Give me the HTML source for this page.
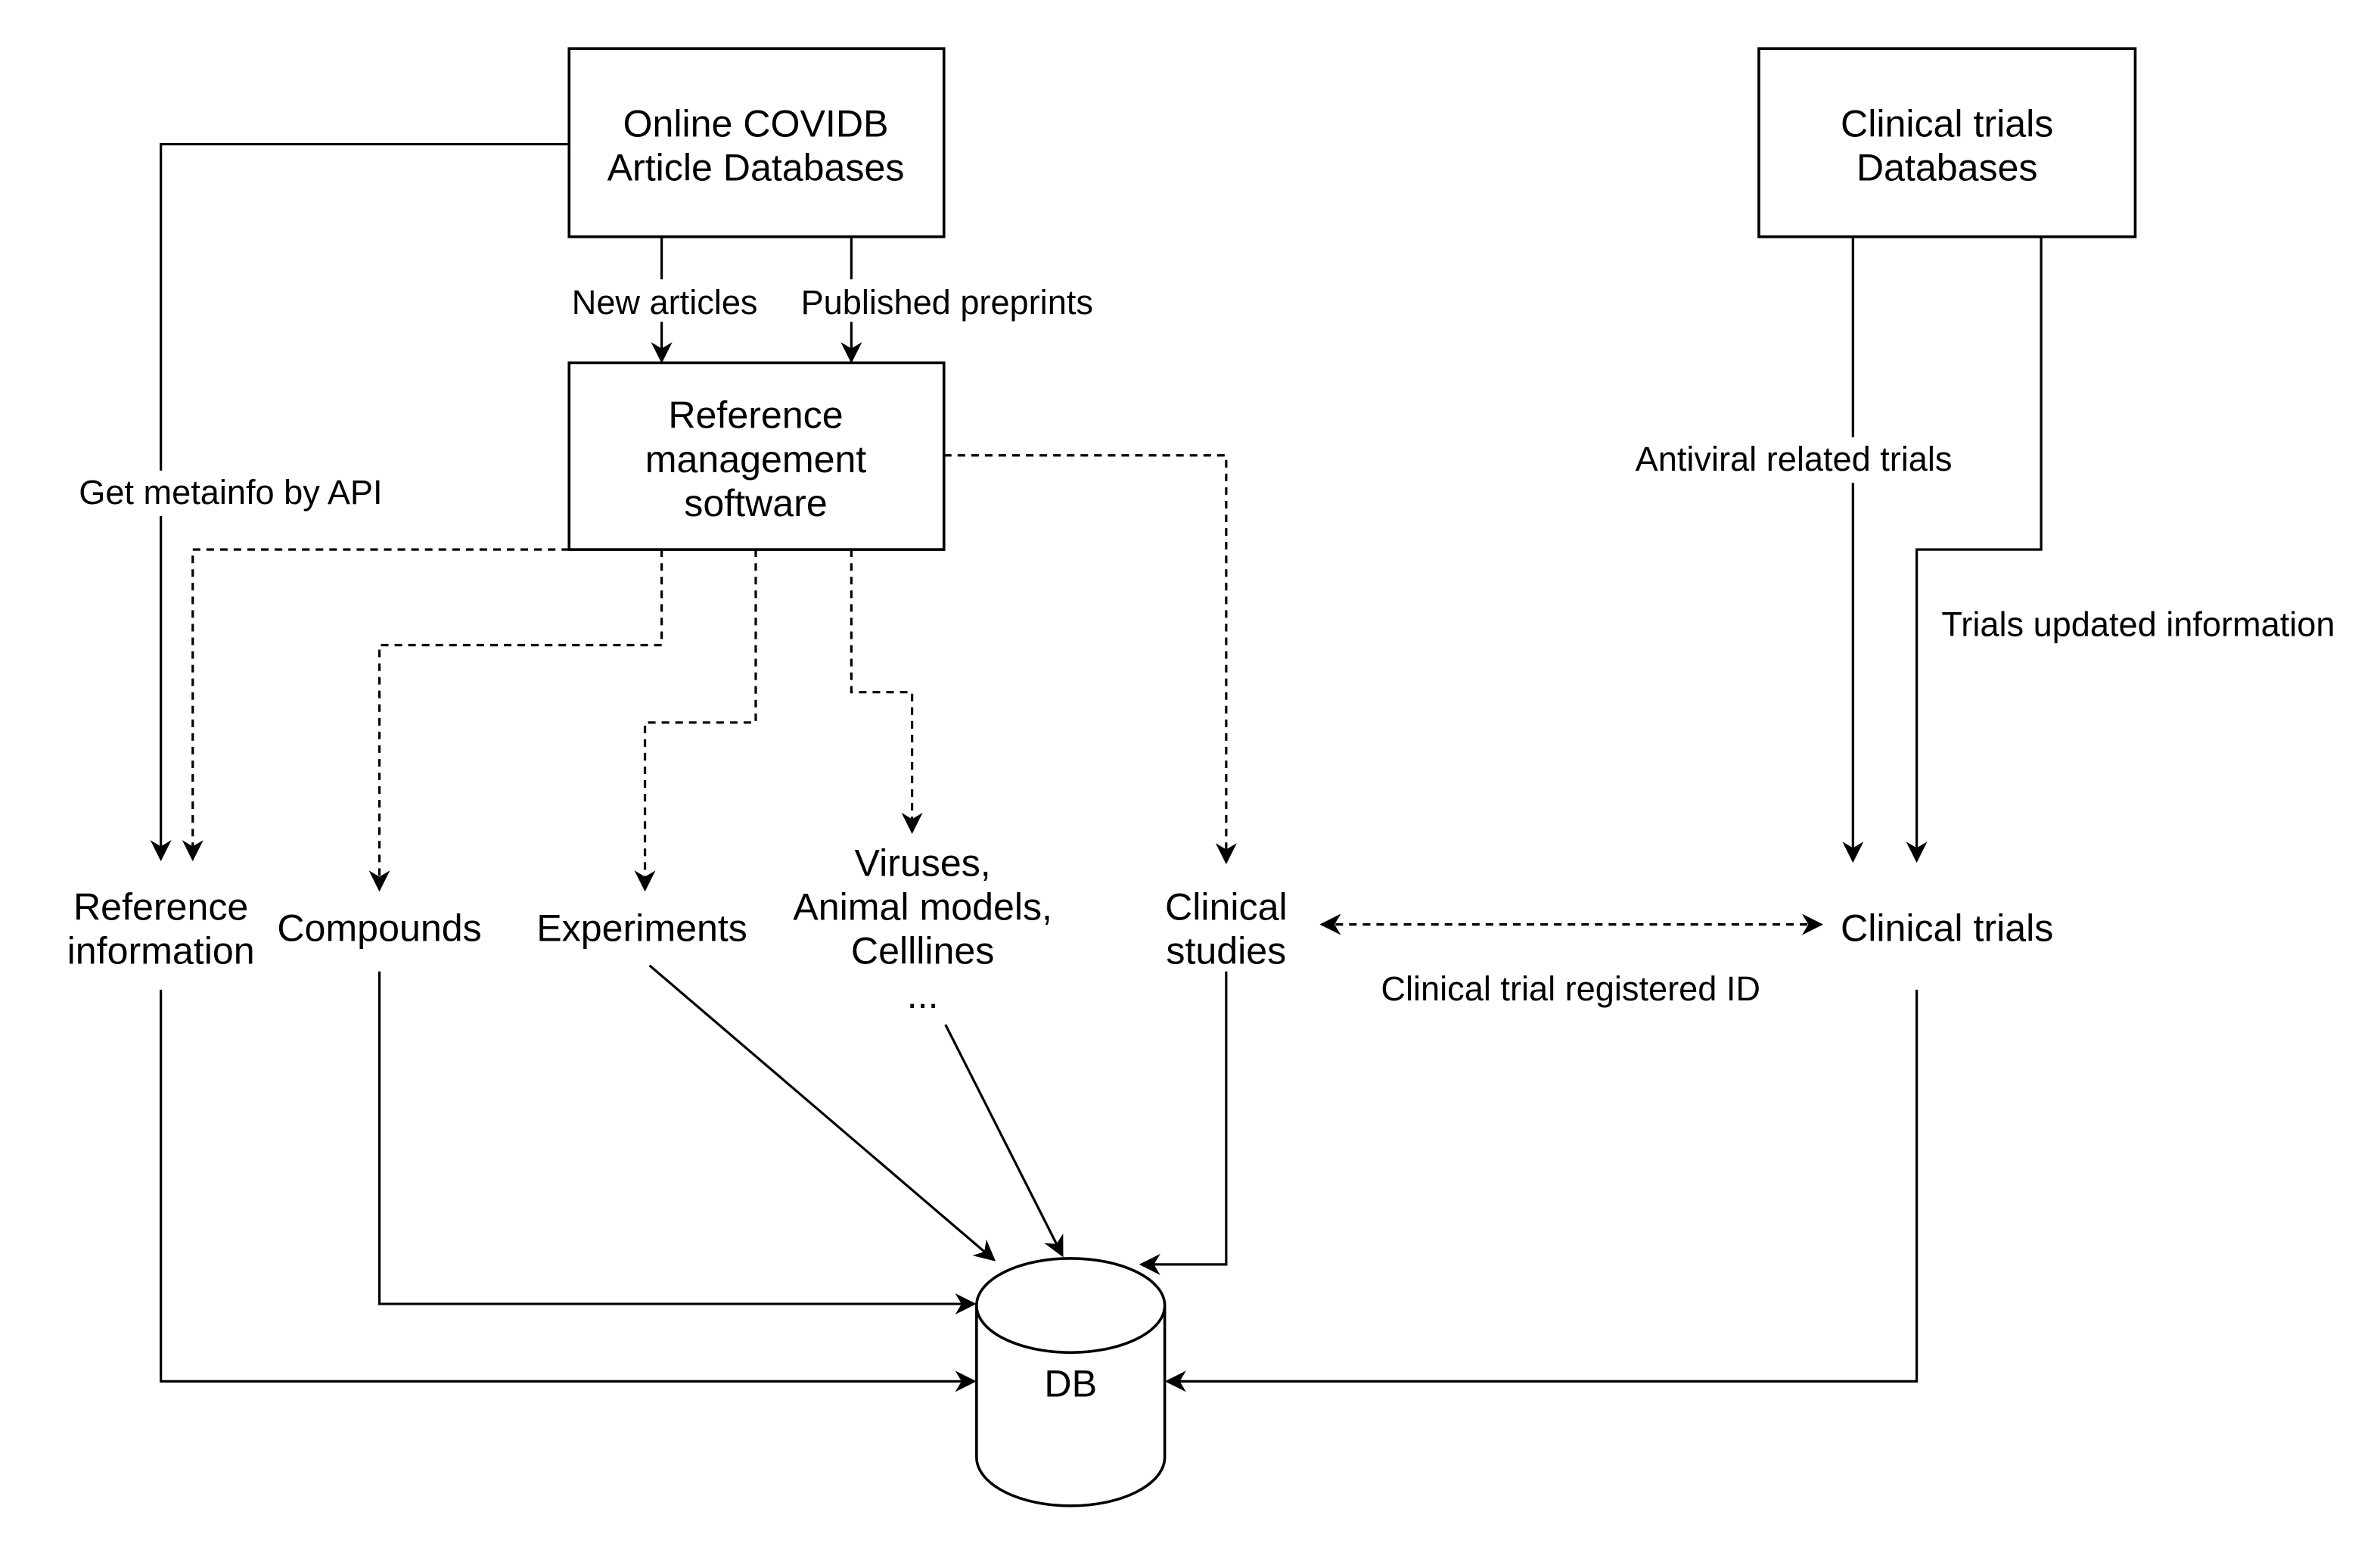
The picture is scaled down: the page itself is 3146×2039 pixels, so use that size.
<!DOCTYPE html>
<html><head><meta charset="utf-8"><style>html,body{margin:0;padding:0;background:#fff}svg{display:block}</style></head>
<body>
<svg width="3146" height="2039" viewBox="0 0 1568.3 1016.5" preserveAspectRatio="none" xmlns="http://www.w3.org/2000/svg" font-family="'Liberation Sans', Arial, sans-serif" fill="#000">
<defs>
<marker id="a" viewBox="0 0 10 10" refX="9" refY="5" markerWidth="14" markerHeight="14" markerUnits="userSpaceOnUse" orient="auto-start-reverse"><path d="M0,0 L10,5 L0,10 L3,5 z" fill="#000"/></marker>
</defs>
<rect width="1568.3" height="1016.5" fill="#fff"/>
<g fill="none" stroke="#000" stroke-width="1.8">
<rect x="375" y="32" width="247" height="124"/>
<rect x="375" y="239" width="247" height="123"/>
<rect x="1159" y="32" width="248" height="124"/>
</g>
<g fill="none" stroke="#000" stroke-width="1.6">
<path d="M436,156 V184 M436,212 V238" marker-end="url(#a)"/>
<path d="M561,156 V184 M561,212 V238" marker-end="url(#a)"/>
<path d="M375,95 H106 V310 M106,340 V566" marker-end="url(#a)"/>
<path d="M1221,156 V288 M1221,318 V567" marker-end="url(#a)"/>
<path d="M1345,156 V362 H1263 V567" marker-end="url(#a)"/>
<path d="M250,640 V859 H642" marker-end="url(#a)"/>
<path d="M106,652 V910 H642" marker-end="url(#a)"/>
<path d="M428,636 L655,830" marker-end="url(#a)"/>
<path d="M623,675 L700,827" marker-end="url(#a)"/>
<path d="M808,640 V833 H752" marker-end="url(#a)"/>
<path d="M1263,652 V910 H769" marker-end="url(#a)"/>
</g>
<g fill="none" stroke="#000" stroke-width="1.6" stroke-dasharray="5,4">
<path d="M375,362 H127 V566" marker-end="url(#a)"/>
<path d="M436,362 V425 H250 V586" marker-end="url(#a)"/>
<path d="M498,362 V476 H425 V586" marker-end="url(#a)"/>
<path d="M561,362 V456 H601 V548" marker-end="url(#a)"/>
<path d="M622,300 H808 V568" marker-end="url(#a)"/>
<path d="M871,609 H1200" marker-start="url(#a)" marker-end="url(#a)"/>
</g>
<g fill="#fff" stroke="#000" stroke-width="1.8">
<path d="M643.5,860 V960 A62,32 0 0 0 767.5,960 V860"/>
<ellipse cx="705.5" cy="860" rx="62" ry="31"/>
</g>
<g font-size="25" text-anchor="middle">
<text x="498" y="90">Online COVIDB</text>
<text x="498" y="119">Article Databases</text>
<text x="498" y="282">Reference</text>
<text x="498" y="311">management</text>
<text x="498" y="340">software</text>
<text x="1283" y="90">Clinical trials</text>
<text x="1283" y="119">Databases</text>
<text x="106" y="606">Reference</text>
<text x="106" y="635">information</text>
<text x="250" y="620">Compounds</text>
<text x="423" y="620">Experiments</text>
<text x="608" y="577">Viruses,</text>
<text x="608" y="606">Animal models,</text>
<text x="608" y="635">Celllines</text>
<text x="608" y="664">...</text>
<text x="808" y="606">Clinical</text>
<text x="808" y="635">studies</text>
<text x="1283" y="620">Clinical trials</text>
<text x="705.5" y="920">DB</text>
</g>
<g font-size="22.5" text-anchor="middle">
<text x="438" y="207">New articles</text>
<text x="624" y="207">Published preprints</text>
<text x="152" y="332">Get metainfo by API</text>
<text x="1182" y="310">Antiviral related trials</text>
<text x="1409" y="419">Trials updated information</text>
<text x="1035" y="659">Clinical trial registered ID</text>
</g>
</svg>
</body></html>
